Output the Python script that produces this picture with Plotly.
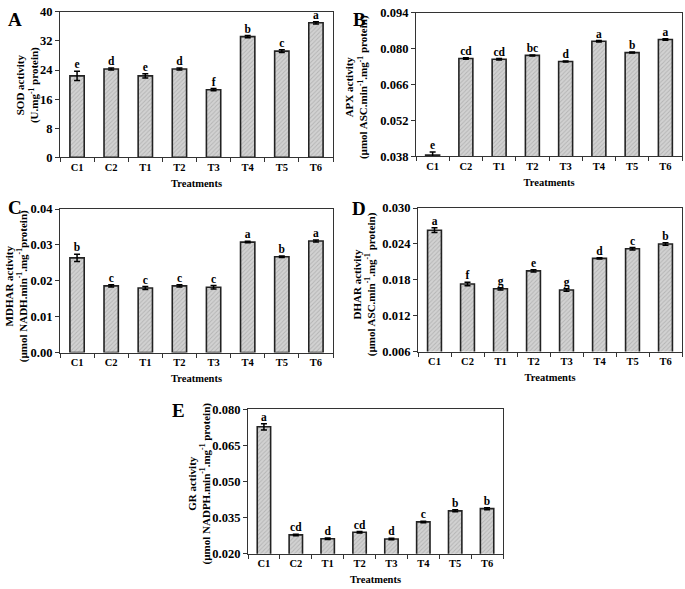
import plotly.graph_objects as go

categories = ["C1", "C2", "T1", "T2", "T3", "T4", "T5", "T6"]

sod = [22.4, 24.3, 22.4, 24.3, 18.6, 33.2, 29.2, 37.0]
sod_err = [1.3, 0.3, 0.6, 0.3, 0.3, 0.3, 0.4, 0.3]
sod_letters = ["e", "d", "e", "d", "f", "b", "c", "a"]

apx = [0.0385, 0.0762, 0.0759, 0.0774, 0.0750, 0.0829, 0.0785, 0.0836]
apx_err = [0.0012, 0.0003, 0.0003, 0.0002, 0.0002, 0.0003, 0.0002, 0.0003]
apx_letters = ["e", "cd", "cd", "bc", "d", "a", "b", "a"]

mdhar = [0.0264, 0.0186, 0.0180, 0.0186, 0.0182, 0.0308, 0.0267, 0.0311]
mdhar_err = [0.0010, 0.0003, 0.0004, 0.0003, 0.0005, 0.0002, 0.0002, 0.0003]
mdhar_letters = ["b", "c", "c", "c", "c", "a", "b", "a"]

dhar = [0.0263, 0.0173, 0.0165, 0.0195, 0.0163, 0.0216, 0.0232, 0.0240]
dhar_err = [0.0004, 0.0003, 0.0002, 0.0002, 0.0002, 0.0001, 0.0002, 0.0002]
dhar_letters = ["a", "f", "g", "e", "g", "d", "c", "b"]

gr = [0.0727, 0.0278, 0.0262, 0.0289, 0.0261, 0.0332, 0.0378, 0.0387]
gr_err = [0.0013, 0.0003, 0.0003, 0.0003, 0.0003, 0.0003, 0.0004, 0.0004]
gr_letters = ["a", "cd", "d", "cd", "d", "c", "b", "b"]

W, H = 685, 589
FONT = "Liberation Serif"

def px2x(p):
    return p / W

def px2y(p):
    return 1 - p / H

panels = [
    # name, values, errs, letters, ytitle, yrange, dtick, fmt, plot x px, plot y px, letter pos, ytitle center
    ("A", sod, sod_err, sod_letters, "SOD activity<br>(U.mg<sup>-1</sup> protein)",
     [0, 40], 8, "d", (60, 333), (5, 154), (15, 13), (27, 80)),
    ("B", apx, apx_err, apx_letters, "APX activity<br>(µmol ASC.min<sup>-1</sup>.mg<sup>-1</sup> protein)",
     [0.038, 0.094], 0.014, ".3f", (416, 682), (6, 153), (359, 13), (356, 82)),
    ("C", mdhar, mdhar_err, mdhar_letters, "MDHAR activity<br>(µmol NADH.min<sup>-1</sup>.mg<sup>-1</sup>protein)",
     [0, 0.04], 0.01, ".2f", (60, 333), (207, 354), (15, 205), (16, 286)),
    ("D", dhar, dhar_err, dhar_letters, "DHAR activity<br>(µmol ASC.min<sup>-1</sup>.mg<sup>-1</sup> protein)",
     [0.006, 0.030], 0.006, ".3f", (418, 682), (206, 353), (359, 206), (364, 284)),
    ("E", gr, gr_err, gr_letters, "GR activity<br>(µmol NADPH.min<sup>-1</sup>.mg<sup>-1</sup> protein)",
     [0.020, 0.080], 0.015, ".3f", (248, 503), (412, 560), (178, 413), (199, 488)),
]

fig = go.Figure()
layout = dict(
    width=W, height=H, margin=dict(l=0, r=0, t=0, b=0),
    paper_bgcolor="white", plot_bgcolor="white", showlegend=False,
    font=dict(family=FONT, color="black", size=10),
)
annotations = []
xidx = list(range(len(categories)))

for i, (name, vals, errs, letters, ytitle, yr, dt, fmt, xp, yp, lp, tp) in enumerate(panels):
    n = "" if i == 0 else str(i + 1)
    xa, ya = "x" + n, "y" + n
    fig.add_trace(go.Bar(
        x=xidx, y=vals, width=0.42, xaxis=xa, yaxis=ya,
        marker=dict(color="#d0d0d0", line=dict(color="#222", width=1.6),
                    pattern=dict(shape="/", fgcolor="#959595", bgcolor="#d2d2d2",
                                 size=3, solidity=0.3)),
        error_y=dict(type="data", array=errs, color="black", thickness=1.5, width=3),
    ))
    fig.add_trace(go.Scatter(
        x=xidx, y=[v + e for v, e in zip(vals, errs)], xaxis=xa, yaxis=ya,
        mode="text", text=letters, textposition="top center",
        textfont=dict(family=FONT, size=11.5, color="black", weight="bold"),
    ))
    layout["xaxis" + n] = dict(
        domain=[px2x(xp[0]), px2x(xp[1])], anchor=ya, range=[-0.5, 7.5],
        tickvals=xidx, ticktext=categories, ticks="", showgrid=False, zeroline=False,
        showline=True, linecolor="#333", linewidth=1.2, mirror=True,
        tickfont=dict(family=FONT, size=10.5, weight="bold"),
        minor=dict(tickvals=[k - 0.5 for k in range(9)], ticks="outside", ticklen=4,
                   tickcolor="#333", tickwidth=1),
        title=dict(text="<b>Treatments</b>", font=dict(family=FONT, size=10.5), standoff=7),
    )
    layout["yaxis" + n] = dict(
        domain=[px2y(yp[1]), px2y(yp[0])], anchor=xa, range=yr,
        tick0=yr[0], dtick=dt, tickformat=fmt, ticks="outside", ticklen=4,
        tickcolor="#333", showgrid=False, zeroline=False,
        showline=True, linecolor="#333", linewidth=1.2, mirror=True,
        tickfont=dict(family=FONT, size=12.5, weight="bold"),
    )
    annotations.append(dict(
        text="<b>" + name + "</b>", x=px2x(lp[0]), y=px2y(lp[1]), xref="paper", yref="paper",
        showarrow=False, xanchor="center", yanchor="middle",
        font=dict(family=FONT, size=19, color="black"),
    ))
    annotations.append(dict(
        text="<b>" + ytitle + "</b>", x=px2x(tp[0]), y=px2y(tp[1]), xref="paper", yref="paper",
        showarrow=False, xanchor="center", yanchor="middle", textangle=-90,
        font=dict(family=FONT, size=11, color="black"),
    ))

layout["annotations"] = annotations
fig.update_layout(**layout)
fig.write_html("out.html", config={"displayModeBar": False},
               post_script="document.body.style.margin='0';document.body.style.overflow='hidden';")
